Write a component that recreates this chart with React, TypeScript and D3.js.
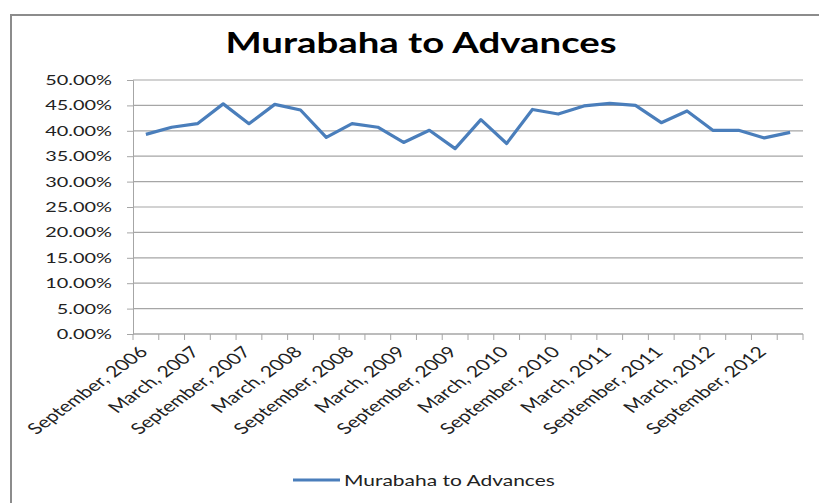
import React, { useRef, useEffect } from 'react';
import * as d3 from 'd3';

// quarterly periods, Sep 2006 .. Dec 2012
const periods = [
  'September, 2006', 'December, 2006', 'March, 2007', 'June, 2007',
  'September, 2007', 'December, 2007', 'March, 2008', 'June, 2008',
  'September, 2008', 'December, 2008', 'March, 2009', 'June, 2009',
  'September, 2009', 'December, 2009', 'March, 2010', 'June, 2010',
  'September, 2010', 'December, 2010', 'March, 2011', 'June, 2011',
  'September, 2011', 'December, 2011', 'March, 2012', 'June, 2012',
  'September, 2012', 'December, 2012'
];

const murabahaToAdvances = [
  39.3, 40.7, 41.4, 45.3, 41.4, 45.2, 44.1, 38.7, 41.4, 40.7, 37.7, 40.1, 36.5,
  42.2, 37.5, 44.2, 43.3, 44.9, 45.4, 45.0, 41.6, 43.9, 40.1, 40.1, 38.6, 39.7
];

const yTicks = [0, 5, 10, 15, 20, 25, 30, 35, 40, 45, 50];

const seriesName = 'Murabaha to Advances';
const chartTitle = 'Murabaha to Advances';

const W = 819;
const H = 503;
// the original picture is stretched sideways, so text gets a horizontal scale
const SX = 1.37;

export default function App() {
  const svgRef = useRef<SVGSVGElement>(null);

  useEffect(() => {
    const svg = d3.select(svgRef.current);
    svg.selectAll('*').remove();

    const font = 'Lato, "Open Sans", sans-serif';
    const left = 133, right = 803, top = 80, bottom = 334;

    svg.append('rect').attr('width', W).attr('height', H).attr('fill', 'white');

    // chart frame
    svg.append('rect')
      .attr('x', 11).attr('y', 15)
      .attr('width', W + 20).attr('height', H + 20)
      .attr('fill', 'none')
      .attr('stroke', '#8c8c8c')
      .attr('stroke-width', 2);

    const x = d3.scaleBand().domain(periods).range([left, right]);
    const y = d3.scaleLinear().domain([0, 50]).range([bottom, top]);

    // gridlines
    svg.append('g')
      .selectAll('line')
      .data(yTicks)
      .enter()
      .append('line')
      .attr('x1', left).attr('x2', right)
      .attr('y1', d => y(d)).attr('y2', d => y(d))
      .attr('stroke', '#a6a6a6')
      .attr('stroke-width', 1.2);

    // y axis
    const yAxis = svg.append('g')
      .attr('transform', `translate(${left},0)`)
      .call(d3.axisLeft(y).tickValues(yTicks).tickSize(6).tickFormat(() => ''));
    yAxis.select('.domain').attr('stroke', '#a6a6a6');
    yAxis.selectAll('.tick line').attr('stroke', '#a6a6a6');

    svg.append('g')
      .selectAll('text')
      .data(yTicks)
      .enter()
      .append('text')
      .attr('transform', d => `translate(112,${y(d) + 5}) scale(1.42,1)`)
      .attr('text-anchor', 'end')
      .attr('fill', '#222')
      .style('font-family', font)
      .style('font-size', '14px')
      .text(d => `${d.toFixed(2)}%`);

    // x axis: tick marks between categories
    const bounds = periods.map(p => x(p) as number).concat([right]);
    const xg = svg.append('g');
    xg.append('line')
      .attr('x1', left).attr('x2', right)
      .attr('y1', bottom).attr('y2', bottom)
      .attr('stroke', '#a6a6a6');
    xg.selectAll('line.tk')
      .data(bounds)
      .enter()
      .append('line')
      .attr('class', 'tk')
      .attr('x1', d => d).attr('x2', d => d)
      .attr('y1', bottom).attr('y2', bottom + 6)
      .attr('stroke', '#a6a6a6');

    xg.selectAll('text')
      .data(periods.filter((_, i) => i % 2 === 0))
      .enter()
      .append('text')
      .attr('transform', d => {
        const cx = (x(d) as number) + x.bandwidth() / 2 + 3;
        return `translate(${cx},${bottom + 19}) scale(${SX},1) rotate(-45)`;
      })
      .attr('text-anchor', 'end')
      .attr('fill', '#222')
      .style('font-family', font)
      .style('font-size', '15.4px')
      .text(d => d);

    // series line
    const line = d3.line<number>()
      .x((_, i) => (x(periods[i]) as number) + x.bandwidth() / 2)
      .y(d => y(d));

    svg.append('path')
      .datum(murabahaToAdvances)
      .attr('d', line)
      .attr('fill', 'none')
      .attr('stroke', '#4a7ebb')
      .attr('stroke-width', 3.2)
      .attr('stroke-linejoin', 'round');

    // title
    svg.append('text')
      .attr('transform', `translate(421,53) scale(${SX},1)`)
      .attr('text-anchor', 'middle')
      .style('font-family', font)
      .style('font-weight', 'bold')
      .style('font-size', '28px')
      .attr('fill', '#000')
      .text(chartTitle);

    // legend
    const lg = svg.append('g').attr('transform', 'translate(293,480)');
    lg.append('line')
      .attr('x1', 0).attr('x2', 47)
      .attr('y1', 0).attr('y2', 0)
      .attr('stroke', '#4a7ebb')
      .attr('stroke-width', 3.2);
    lg.append('text')
      .attr('transform', `translate(51,5.5) scale(${SX},1)`)
      .attr('fill', '#222')
      .style('font-family', font)
      .style('font-size', '15.3px')
      .text(seriesName);
  }, []);

  return (
    <div style={{ position: 'absolute', left: 0, top: 0 }}>
      <svg ref={svgRef} width={W} height={H} style={{ display: 'block' }}></svg>
    </div>
  );
}
